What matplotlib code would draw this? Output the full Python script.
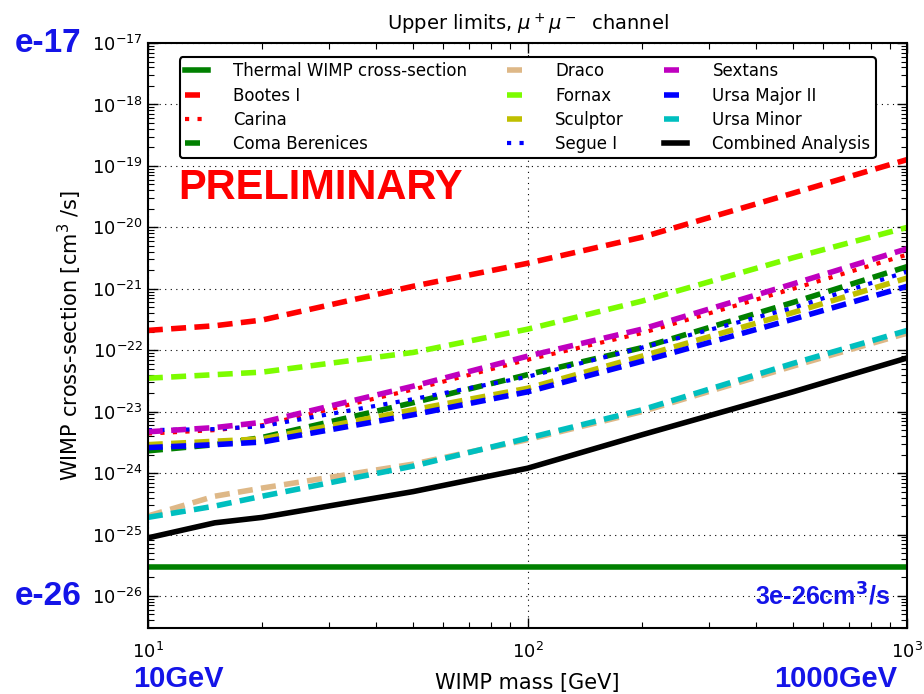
import numpy as np
import matplotlib.pyplot as plt
from matplotlib.ticker import LogLocator, NullFormatter

# WIMP masses (GeV) where the limits are given
masses = [10, 15, 20, 50, 100, 200, 500, 1000]

# upper limits on <sigma v> (cm^3/s)
bootes = [2.1e-22, 2.5e-22, 3.1e-22, 1.1e-21, 2.6e-21, 6.9e-21, 3.6e-20, 1.27e-19]
carina = [4.4e-24, 5.0e-24, 6.0e-24, 2.3e-23, 7.0e-23, 1.9e-22, 1.0e-21, 3.6e-21]
coma = [2.3e-24, 2.9e-24, 3.8e-24, 1.4e-23, 4.0e-23, 1.1e-22, 6.0e-22, 2.3e-21]
draco = [2.0e-25, 4.2e-25, 5.7e-25, 1.4e-24, 3.5e-24, 1.0e-23, 5.5e-23, 1.9e-22]
fornax = [3.5e-23, 4.0e-23, 4.4e-23, 9.2e-23, 2.2e-22, 6.3e-22, 3.2e-21, 1.0e-20]
sculptor = [2.9e-24, 3.3e-24, 3.6e-24, 1.07e-23, 2.4e-23, 8.0e-23, 4.1e-22, 1.5e-21]
segue = [5.0e-24, 5.2e-24, 5.8e-24, 1.6e-23, 3.7e-23, 1.1e-22, 4.9e-22, 1.9e-21]
sextans = [4.7e-24, 5.5e-24, 6.7e-24, 2.6e-23, 8.0e-23, 2.2e-22, 1.2e-21, 4.5e-21]
uma2 = [2.6e-24, 2.9e-24, 3.2e-24, 8.9e-24, 2.1e-23, 6.6e-23, 3.2e-22, 1.1e-21]
umi = [1.9e-25, 2.9e-25, 4.2e-25, 1.3e-24, 3.7e-24, 1.07e-23, 6.1e-23, 2.1e-22]
combined = [8.8e-26, 1.55e-25, 1.9e-25, 5.0e-25, 1.2e-24, 4.2e-24, 2.1e-23, 7.5e-23]
thermal = 3e-26

DASH = (2.7, 1.5)
DOT = (1.0, 2.0)

curves = [
    ('Bootes I', bootes, 'red', DASH),
    ('Carina', carina, 'red', DOT),
    ('Coma Berenices', coma, 'green', DASH),
    ('Draco', draco, 'burlywood', DASH),
    ('Fornax', fornax, 'lawngreen', DASH),
    ('Sculptor', sculptor, '#BFBF00', DASH),
    ('Segue I', segue, 'blue', DOT),
    ('Sextans', sextans, '#BF00BF', DASH),
    ('Ursa Major II', uma2, 'blue', DASH),
    ('Ursa Minor', umi, '#00BFBF', DASH),
]

fig = plt.figure(figsize=(9.24, 6.94), dpi=100)
ax = fig.add_axes([0.160, 0.095, 0.822, 0.843])

ax.plot([10, 1000], [thermal, thermal], color='green', lw=4, label='Thermal WIMP cross-section')
for name, vals, col, dsh in curves:
    lw = 3 if dsh == DOT else 4
    ax.plot(masses, vals, color=col, lw=lw, dashes=dsh, label=name)
ax.plot(masses, combined, color='black', lw=4, label='Combined Analysis')

ax.set_xscale('log')
ax.set_yscale('log')
ax.set_xlim(10, 1000)
ax.set_ylim(3e-27, 1e-17)
ax.yaxis.set_major_locator(LogLocator(base=10, numticks=20))
ax.yaxis.set_minor_locator(LogLocator(base=10, subs=np.arange(2, 10), numticks=20))
ax.yaxis.set_minor_formatter(NullFormatter())
ax.tick_params(which='both', direction='in', top=True, right=True, labelsize=13)
ax.tick_params(which='major', length=7, width=1)
ax.tick_params(which='minor', length=4, width=0.8)
ax.tick_params(axis='x', pad=10)
ax.grid(True, which='major', color='black', linestyle=(0, (1, 4)), lw=0.8)
for s in ax.spines.values():
    s.set_linewidth(1.5)

ax.set_xlabel('WIMP mass [GeV]', fontsize=15, labelpad=8)
ax.set_ylabel(r'WIMP cross-section [cm$^3$ /s]', fontsize=15, labelpad=6)
ax.set_title(r'Upper limits, $\mu^+\mu^-$  channel', fontsize=14, pad=9)

leg = ax.legend(ncol=3, loc='upper center', bbox_to_anchor=(0.5, 0.99), fontsize=12,
                handlelength=1.4, handletextpad=1.5, columnspacing=2.4,
                labelspacing=0.38, borderpad=0.3,
                fancybox=True, framealpha=1, edgecolor='black')
leg.get_frame().set_linewidth(1.5)

ax.text(0.04, 0.752, 'PRELIMINARY', transform=ax.transAxes, color='red',
        fontsize=30, fontweight='bold', family='Liberation Sans', va='center')

blue = '#1414E8'
fig.text(0.016, 0.938, 'e-17', color=blue, fontsize=24, fontweight='bold',
         family='Liberation Sans', va='center')
fig.text(0.016, 0.141, 'e-26', color=blue, fontsize=24, fontweight='bold',
         family='Liberation Sans', va='center')
fig.text(0.144, 0.022, '10GeV', color=blue, fontsize=21, fontweight='bold',
         family='Liberation Sans', va='center')
fig.text(0.971, 0.022, '1000GeV', color=blue, fontsize=21, fontweight='bold',
         family='Liberation Sans', va='center', ha='right')
fig.text(0.963, 0.141, r'3e-26cm$^\mathbf{3}$/s', color=blue, fontsize=18, fontweight='bold',
         family='Liberation Sans', va='center', ha='right')

fig.savefig('out.png', dpi=100)
